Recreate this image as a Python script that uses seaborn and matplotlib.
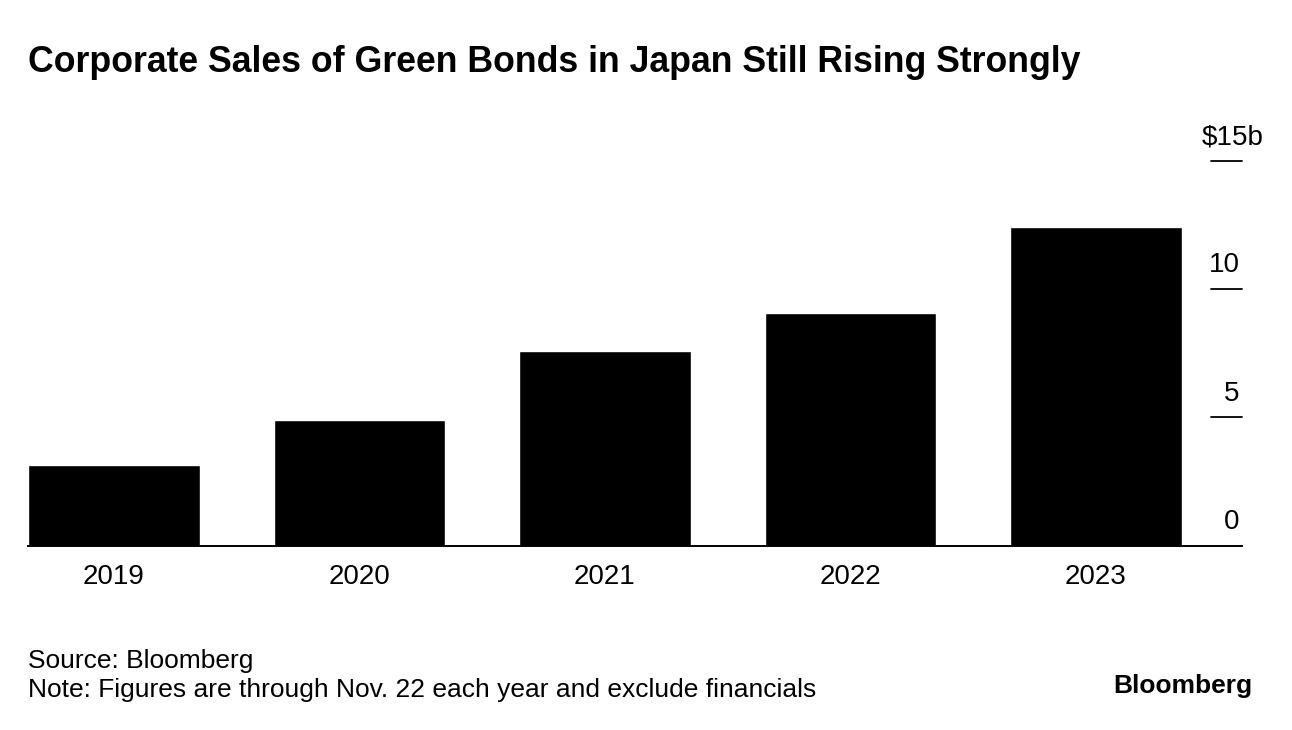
import matplotlib
matplotlib.use("Agg")
import matplotlib.pyplot as plt
import matplotlib.transforms as mtransforms
import seaborn as sns

# data ($ billions)
years = ["2019", "2020", "2021", "2022", "2023"]
sales = [3.14, 4.89, 7.58, 9.06, 12.42]
ytick_vals = [0, 5, 10, 15]
ytick_labels = ["0", "5", "10", "$15b"]

sns.set_style("white")
plt.rcParams["font.family"] = ["Liberation Sans", "DejaVu Sans"]
plt.rcParams["text.color"] = "black"

fig = plt.figure(figsize=(12.92, 7.3), dpi=100)
ax = fig.add_axes([28 / 1292, (730 - 545.5) / 730, (1242 - 28) / 1292, (545.5 - 160.7) / 730])

sns.barplot(x=years, y=sales, color="black", width=0.7, saturation=1, ax=ax)

ax.set_xlim(-0.35, 4.595)
ax.set_ylim(0, 15)
ax.set_xlabel("")
ax.set_ylabel("")

for s in ["top", "left", "right"]:
    ax.spines[s].set_visible(False)
ax.spines["bottom"].set_color("black")
ax.spines["bottom"].set_linewidth(1.4)

ax.tick_params(axis="x", length=0, pad=13, labelsize=20, labelcolor="black")
ax.set_yticks([])

# right-side y labels sitting above short tick stubs
trans = mtransforms.blended_transform_factory(ax.transAxes, ax.transData)
for v, lab in zip(ytick_vals, ytick_labels):
    if v > 0:
        ax.axhline(v, xmin=0.9745, xmax=1.0, color="black", lw=1.3, clip_on=False)
    # the unit suffix "b" hangs past the number column
    dx = 17 if lab.endswith("b") else 0
    ax.annotate(lab, xy=(0.998, v), xycoords=trans, xytext=(dx, 12), textcoords="offset points",
                ha="right", va="baseline", fontsize=20, color="black", annotation_clip=False)

fig.text(28 / 1292, 1 - 62 / 730, "Corporate Sales of Green Bonds in Japan Still Rising Strongly",
         fontsize=25.7, fontweight="bold", ha="left", va="center", color="black")
fig.text(28 / 1292, 1 - 661 / 730, "Source: Bloomberg", fontsize=19, ha="left", va="center", color="black")
fig.text(28 / 1292, 1 - 690 / 730, "Note: Figures are through Nov. 22 each year and exclude financials",
         fontsize=19, ha="left", va="center", color="black")
fig.text(1252 / 1292, 1 - 686 / 730, "Bloomberg", fontsize=19, fontweight="bold", ha="right", va="center",
         color="black")

plt.savefig("out.png", dpi=100)
plt.close()
